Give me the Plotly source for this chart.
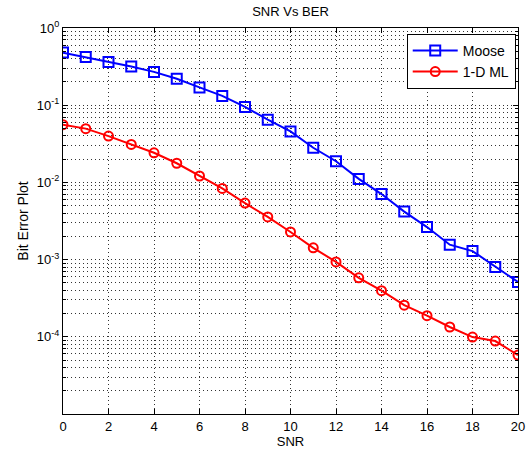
import plotly.graph_objects as go

snr = list(range(0, 21))
moose = [0.48, 0.42, 0.363, 0.317, 0.27, 0.22, 0.17, 0.132, 0.095, 0.065, 0.0458,
         0.0281, 0.0188, 0.0111, 0.00706, 0.00419, 0.00264, 0.00156, 0.00129, 0.000803, 0.000512]
ml1d = [0.056, 0.0497, 0.0398, 0.031, 0.0242, 0.0177, 0.0121, 0.00835, 0.00539, 0.00357, 0.00228,
        0.00142, 0.000933, 0.000580, 0.000396, 0.000257, 0.000188, 0.000134, 0.0000993, 0.0000881, 0.000058]

x_ticks = list(range(0, 21, 2))
y_tickvals = [1e-4, 1e-3, 1e-2, 1e-1, 1e0]
y_ticktext = ["10<sup>-4</sup>", "10<sup>-3</sup>", "10<sup>-2</sup>", "10<sup>-1</sup>", "10<sup>0</sup>"]
y_minor = [m * 10.0 ** e for e in range(-5, 0) for m in range(2, 10)]

fig = go.Figure()
fig.add_trace(go.Scatter(x=snr, y=moose, name="Moose", mode="lines+markers",
                         line=dict(color="#0000ff", width=2),
                         marker=dict(symbol="square-open", size=10, color="#0000ff",
                                     line=dict(width=2))))
fig.add_trace(go.Scatter(x=snr, y=ml1d, name="1-D ML", mode="lines+markers",
                         line=dict(color="#ff0000", width=2),
                         marker=dict(symbol="circle-open", size=9, color="#ff0000",
                                     line=dict(width=2))))

grid_dash = "1px,3px"
axis_common = dict(showline=True, linecolor="black", linewidth=1, mirror="allticks",
                   ticks="inside", ticklen=5, tickcolor="black",
                   showgrid=True, gridcolor="#333333", griddash=grid_dash, gridwidth=1,
                   zeroline=False, tickfont=dict(size=13, color="black"),
                   ticklabeloverflow="allow", automargin=False)

fig.update_xaxes(range=[0, 20], tickvals=x_ticks,
                 title=dict(text="SNR", font=dict(size=13, color="black"), standoff=2),
                 **axis_common)
fig.update_yaxes(type="log", range=[-5, 0], tickvals=y_tickvals, ticktext=y_ticktext,
                 title=dict(text="Bit Error Plot", font=dict(size=14, color="black"), standoff=4),
                 minor=dict(tickvals=y_minor, ticks="inside", ticklen=3, tickcolor="black",
                            showgrid=True, gridcolor="#333333", griddash=grid_dash, gridwidth=1),
                 **axis_common)

fig.update_layout(
    width=526, height=454,
    margin=dict(l=63, r=8, t=28, b=40, autoexpand=False),
    paper_bgcolor="white", plot_bgcolor="white",
    font=dict(family="Liberation Sans, Arial, sans-serif", size=13, color="black"),
    title=dict(text="SNR Vs BER", x=0.5, xref="paper", y=0.975, yanchor="middle",
               font=dict(size=13, color="black")),
    legend=dict(x=0.995, y=0.985, xanchor="right", yanchor="top", bgcolor="white",
                bordercolor="black", borderwidth=1, font=dict(size=14, color="black"),
                tracegroupgap=0, itemwidth=45),
    showlegend=True,
)

fig.write_html("out.html", config={"displayModeBar": False},
               post_script="document.body.style.margin='0';document.body.style.overflow='hidden';")
